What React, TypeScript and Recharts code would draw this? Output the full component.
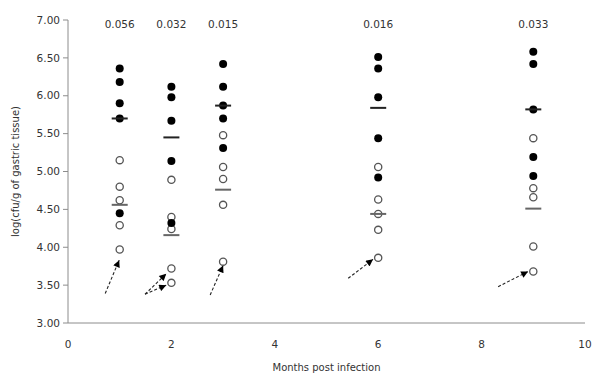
import React from 'react';
import {
  ScatterChart,
  Scatter,
  XAxis,
  YAxis,
  ReferenceLine,
} from 'recharts';

// Sampling months and the p-value printed above each group
const months = [1, 2, 3, 6, 9];
const pValues = ['0.056', '0.032', '0.015', '0.016', '0.033'];

// log(cfu/g) per animal, filled-symbol group
const filledLogs = [
  [6.36, 6.18, 5.9, 5.7, 4.45],
  [6.12, 5.98, 5.67, 5.14, 4.32],
  [6.42, 6.12, 5.87, 5.7, 5.31],
  [6.51, 6.36, 5.98, 5.44, 4.92],
  [6.58, 6.42, 5.82, 5.19, 4.94],
];

// log(cfu/g) per animal, open-symbol group
const openLogs = [
  [5.15, 4.8, 4.62, 4.29, 3.97],
  [4.89, 4.4, 4.24, 3.72, 3.53],
  [5.48, 5.06, 4.9, 4.56, 3.81],
  [5.06, 4.63, 4.44, 4.23, 3.86],
  [5.44, 4.78, 4.66, 4.01, 3.68],
];

// Group means (horizontal bars)
const filledMeans = [5.7, 5.45, 5.87, 5.84, 5.82];
const openMeans = [4.56, 4.16, 4.76, 4.44, 4.51];

// Dashed arrows: [fromMonth, fromLog, toMonth, toLog]
const arrows = [
  [0.72, 3.39, 0.99, 3.83],
  [1.49, 3.38, 1.9, 3.65],
  [1.49, 3.38, 1.9, 3.5],
  [2.75, 3.37, 3.0, 3.76],
  [5.42, 3.59, 5.9, 3.84],
  [8.32, 3.48, 8.9, 3.68],
];

const xTicks = [0, 2, 4, 6, 8, 10];
const yTicks = [3, 3.5, 4, 4.5, 5, 5.5, 6, 6.5, 7];

const filledPoints = months.flatMap((m, i) => filledLogs[i].map((v) => ({ x: m, y: v })));
const openPoints = months.flatMap((m, i) => openLogs[i].map((v) => ({ x: m, y: v })));
const filledMeanPoints = months.map((m, i) => ({ x: m, y: filledMeans[i] }));
const openMeanPoints = months.map((m, i) => ({ x: m, y: openMeans[i] }));
const pLabelPoints = months.map((m, i) => ({ x: m, y: 7, label: pValues[i] }));

const FONT = '"DejaVu Sans", sans-serif';
const TEXT = '#333';
const AXIS = '#8c8c8c';

const FilledDot = (p: any) => <circle cx={p.cx} cy={p.cy} r={4} fill="#000" />;
const OpenDot = (p: any) => (
  <circle cx={p.cx} cy={p.cy} r={3.6} fill="#fff" stroke="#555" strokeWidth={1.3} />
);
const MeanBar = (color: string) => (p: any) => (
  <rect x={p.cx - 8} y={p.cy - 1} width={16} height={2} fill={color} />
);
const PLabel = (p: any) => (
  <text
    x={p.cx}
    y={p.cy + 4}
    textAnchor="middle"
    dominantBaseline="central"
    fontFamily={FONT}
    fontSize={10.5}
    fill={TEXT}
  >
    {p.payload.label}
  </text>
);

export default function App() {
  return (
    <div style={{ position: 'absolute', left: 0, top: 0, background: '#fff' }}>
      <ScatterChart
        width={592}
        height={374}
        margin={{ top: 20, right: 7, bottom: 0, left: 10 }}
      >
        <defs>
          <marker
            id="arrowHead"
            viewBox="0 0 10 10"
            refX={10}
            refY={5}
            markerWidth={8}
            markerHeight={7}
            markerUnits="userSpaceOnUse"
            orient="auto"
          >
            <path d="M0,0 L10,5 L0,10 z" fill="#000" />
          </marker>
        </defs>
        <XAxis
          type="number"
          dataKey="x"
          domain={[0, 10]}
          ticks={xTicks}
          height={51}
          stroke={AXIS}
          tickLine={false}
          tickSize={4}
          tickMargin={14}
          tick={{ fontFamily: FONT, fontSize: 10.5, fill: TEXT }}
          label={{
            value: 'Months post infection',
            position: 'insideBottom',
            offset: 3,
            style: { fontFamily: FONT, fontSize: 10, fill: TEXT },
          }}
        />
        <YAxis
          type="number"
          dataKey="y"
          domain={[3, 7]}
          ticks={yTicks}
          width={58}
          stroke={AXIS}
          tickSize={5}
          tickMargin={3}
          tickFormatter={(v: number) => v.toFixed(2)}
          tick={{ fontFamily: FONT, fontSize: 10.5, fill: TEXT }}
          label={{
            value: 'log(cfu/g of gastric tissue)',
            angle: -90,
            position: 'insideLeft',
            offset: 5,
            style: { fontFamily: FONT, fontSize: 10, fill: TEXT, textAnchor: 'middle' },
          }}
        />
        {arrows.map((a, i) => (
          <ReferenceLine
            key={i}
            segment={[
              { x: a[0], y: a[1] },
              { x: a[2], y: a[3] },
            ]}
            stroke="#222"
            strokeWidth={1.1}
            strokeDasharray="3 2"
            markerEnd="url(#arrowHead)"
          />
        ))}
        <Scatter data={openPoints} shape={OpenDot} isAnimationActive={false} />
        <Scatter data={filledPoints} shape={FilledDot} isAnimationActive={false} />
        <Scatter data={openMeanPoints} shape={MeanBar('#666')} isAnimationActive={false} />
        <Scatter data={filledMeanPoints} shape={MeanBar('#222')} isAnimationActive={false} />
        <Scatter data={pLabelPoints} shape={PLabel} isAnimationActive={false} />
      </ScatterChart>
    </div>
  );
}
